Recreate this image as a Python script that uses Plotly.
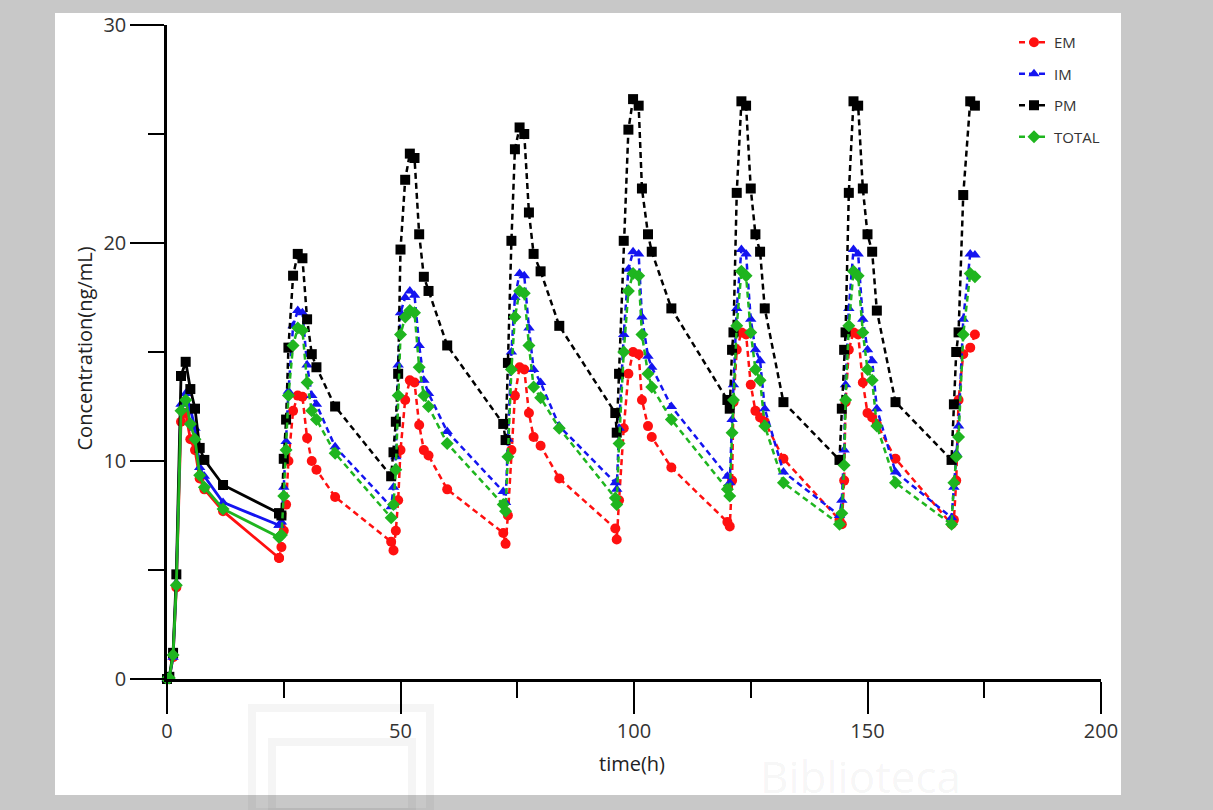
import plotly.graph_objects as go

# ---------------- data ----------------
# sampling times (h), dose by dose
time_h = [
    0, 0.5, 1.3, 2, 3, 4, 5, 6, 7, 8, 12,
    24, 24.5, 25, 25.5, 26, 27, 28, 29, 30, 31, 32, 36,
    48, 48.5, 49, 49.5, 50, 51, 52, 53, 54, 55, 56, 60,
    72, 72.5, 73, 73.75, 74.5, 75.5, 76.5, 77.5, 78.5, 80, 84,
    96, 96.3, 96.8, 97.8, 98.8, 99.8, 101, 101.7, 103, 103.8, 108,
    120, 120.5, 121, 121.3, 122, 123, 124, 125, 126, 127, 128, 132,
    144, 144.5, 145, 145.3, 146, 147, 148, 149, 150, 151, 152, 156,
    168, 168.5, 169, 169.5, 170.5, 172, 173,
]

conc_em = [
    0, 0.05, 1.0, 4.2, 11.8, 12.2, 11.0, 10.5, 9.2, 8.7, 7.7,
    5.55, 6.05, 6.8, 8.0, 10.0, 12.3, 13.0, 12.95, 11.05, 10.0, 9.6, 8.35,
    6.3, 5.9, 6.8, 8.2, 10.5, 12.8, 13.7, 13.6, 11.65, 10.5, 10.25, 8.7,
    6.7, 6.2, 7.5, 10.5, 13.0, 14.3, 14.2, 12.2, 11.1, 10.7, 9.2,
    6.9, 6.4, 8.2, 11.5, 14.0, 15.0, 14.9, 12.8, 11.6, 11.1, 9.7,
    7.2, 7.0, 9.1, 12.7, 15.1, 15.9, 15.8, 13.5, 12.3, 12.0, 11.8, 10.1,
    7.3, 7.1, 9.1, 12.7, 15.1, 15.9, 15.8, 13.6, 12.2, 12.0, 11.7, 10.1,
    7.1, 7.3, 9.1, 12.8, 14.9, 15.2, 15.8,
]

conc_im = [
    0, 0.05, 1.0, 4.4, 12.6, 13.1, 12.4, 11.5, 9.7, 9.3, 8.1,
    7.05, 7.2, 8.8, 10.9, 13.2, 16.2, 16.9, 16.8, 14.4, 13.0, 12.6, 10.65,
    7.9, 8.8, 10.2, 14.4, 16.8, 17.5, 17.8, 17.6, 15.3, 13.7, 13.1, 11.35,
    8.6, 8.1, 11.0, 15.0, 17.5, 18.6, 18.5, 16.1, 14.2, 13.6, 11.6,
    9.0, 8.7, 11.5, 15.8, 18.8, 19.6, 19.5, 16.6, 14.8, 14.3, 12.5,
    9.3, 9.0, 11.9, 13.5, 17.0, 19.7, 19.5, 16.5, 15.1, 14.6, 12.4, 9.5,
    7.5, 8.2, 10.5, 13.5, 17.0, 19.7, 19.5, 16.5, 15.1, 14.6, 12.4, 9.5,
    7.4, 8.8, 10.35, 11.6, 16.5, 19.5, 19.45,
]

conc_pm = [
    0, 0.1, 1.2, 4.8, 13.9, 14.55, 13.3, 12.4, 10.6, 10.05, 8.9,
    7.6, 7.5, 10.1, 11.9, 15.2, 18.5, 19.5, 19.3, 16.5, 14.9, 14.3, 12.5,
    9.3, 10.4, 11.8, 14.0, 19.7, 22.9, 24.1, 23.9, 20.4, 18.45, 17.8, 15.3,
    11.7, 10.96, 14.5, 20.1, 24.3, 25.3, 25.0, 21.4, 19.5, 18.7, 16.2,
    12.2, 11.3, 14.0, 20.1, 25.2, 26.6, 26.3, 22.5, 20.4, 19.6, 17.0,
    12.8, 12.4, 15.1, 15.9, 22.3, 26.5, 26.3, 22.5, 20.4, 19.6, 17.0, 12.7,
    10.05, 12.4, 15.1, 15.9, 22.3, 26.5, 26.3, 22.5, 20.4, 19.6, 16.9, 12.7,
    10.05, 12.6, 15.0, 15.9, 22.2, 26.5, 26.3,
]

conc_total = [
    0, 0.05, 1.1, 4.3, 12.3, 12.8, 11.7, 11.0, 9.35, 8.8, 7.8,
    6.5, 6.6, 8.4, 10.5, 13.0, 15.3, 16.1, 16.0, 13.6, 12.3, 11.9, 10.35,
    7.4, 8.0, 9.6, 13.0, 15.8, 16.6, 16.9, 16.8, 14.3, 13.0, 12.5, 10.8,
    8.0, 7.7, 10.2, 14.2, 16.6, 17.8, 17.7, 15.3, 13.4, 12.9, 11.5,
    8.3, 8.0, 10.8, 15.0, 17.8, 18.6, 18.5, 15.8, 14.0, 13.4, 11.9,
    8.7, 8.4, 11.3, 12.8, 16.2, 18.7, 18.5, 15.9, 14.2, 13.7, 11.6, 9.0,
    7.1, 7.6, 9.8, 12.8, 16.2, 18.7, 18.5, 15.9, 14.2, 13.7, 11.6, 9.0,
    7.1, 9.0, 10.2, 11.1, 15.8, 18.6, 18.45,
]

series_names = ["EM", "IM", "PM", "TOTAL"]
x_ticks = [0, 50, 100, 150, 200]
y_ticks = [0, 10, 20, 30]
first_dose_end = 24

# ---------------- styling ----------------
colors = {"EM": "#ff1010", "IM": "#1414f0", "PM": "#000000", "TOTAL": "#1fb51f"}
symbols = {"EM": "circle", "IM": "triangle-up", "PM": "square", "TOTAL": "diamond"}
values = {"EM": conc_em, "IM": conc_im, "PM": conc_pm, "TOTAL": conc_total}
FONT = "Open Sans"

W, H = 1213, 810
ML, MR, MT, MB = 167, 112, 25, 131
PW, PH = W - ML - MR, H - MT - MB


def px_x(px):
    return (px - ML) / PW


def px_y(py):
    return (H - MB - py) / PH


fig = go.Figure()

# first dosing interval: solid lines
for name in series_names:
    xs = [t for t in time_h if t <= first_dose_end]
    ys = [v for t, v in zip(time_h, values[name]) if t <= first_dose_end]
    fig.add_trace(go.Scatter(
        x=xs, y=ys, mode="lines+markers", name=name, legendgroup=name,
        showlegend=False, cliponaxis=False,
        line=dict(color=colors[name], width=2.8),
        marker=dict(symbol=symbols[name], size=10, color=colors[name]),
    ))

# later doses: dashed lines
for name in series_names:
    xs = [t for t in time_h if t >= first_dose_end]
    ys = [v for t, v in zip(time_h, values[name]) if t >= first_dose_end]
    fig.add_trace(go.Scatter(
        x=xs, y=ys, mode="lines+markers", name=name, legendgroup=name,
        cliponaxis=False,
        line=dict(color=colors[name], width=2.5, dash="6px,4px"),
        marker=dict(symbol=symbols[name], size=10, color=colors[name]),
    ))

axis_common = dict(
    showgrid=False, zeroline=False, showline=True, linecolor="black",
    linewidth=2.5, ticks="outside", tickcolor="black", tickwidth=2,
    tickfont=dict(family=FONT, size=20, color="#333333"),
)

fig.update_xaxes(
    range=[0, 200], tickmode="array", tickvals=x_ticks, ticklen=32,
    minor=dict(ticks="outside", dtick=25, tick0=0, ticklen=16,
               tickwidth=2, tickcolor="black"),
    **axis_common,
)
fig.update_yaxes(
    range=[0, 30], tickmode="array", tickvals=y_ticks, ticklen=34,
    minor=dict(ticks="outside", dtick=5, tick0=0, ticklen=16,
               tickwidth=2, tickcolor="black"),
    **axis_common,
)

shapes = [
    # white panel over the grey frame
    dict(type="rect", xref="paper", yref="paper", layer="below",
         x0=px_x(55), x1=px_x(1121), y0=px_y(795), y1=px_y(13),
         fillcolor="white", line=dict(width=0)),
    # faint watermark logo
    dict(type="rect", xref="paper", yref="paper", layer="below",
         x0=px_x(252), x1=px_x(430), y0=px_y(812), y1=px_y(708),
         fillcolor="rgba(0,0,0,0)", line=dict(color="rgba(0,0,0,0.04)", width=8)),
    dict(type="rect", xref="paper", yref="paper", layer="below",
         x0=px_x(272), x1=px_x(412), y0=px_y(812), y1=px_y(742),
         fillcolor="rgba(0,0,0,0)", line=dict(color="rgba(0,0,0,0.04)", width=8)),
]

annotations = [
    # faint watermark, kept clear of the tick labels and axis title
    dict(text="Biblioteca", xref="paper", yref="paper",
         x=px_x(860), y=px_y(744), xanchor="center", yanchor="top",
         showarrow=False,
         font=dict(family=FONT, size=44, color="rgba(0,0,0,0.05)")),
    dict(text="Concentration(ng/mL)", xref="paper", yref="paper",
         x=px_x(68), y=px_y(349), textangle=-90, showarrow=False,
         font=dict(family=FONT, size=20, color="#222222")),
    dict(text="time(h)", xref="paper", yref="paper",
         x=px_x(632), y=px_y(779), showarrow=False,
         font=dict(family=FONT, size=20, color="#222222")),
]

fig.update_layout(
    width=W, height=H, autosize=False,
    margin=dict(l=ML, r=MR, t=MT, b=MB),
    paper_bgcolor="#c8c8c8", plot_bgcolor="white",
    shapes=shapes, annotations=annotations,
    legend=dict(
        x=px_x(1014), y=px_y(26), xanchor="left", yanchor="top",
        bgcolor="rgba(0,0,0,0)", borderwidth=0,
        font=dict(family=FONT, size=15, color="#333333"),
        tracegroupgap=9, itemwidth=30,
    ),
)

fig.write_html(
    "out.html",
    config={"displayModeBar": False},
    post_script="document.body.style.margin='0';document.body.style.padding='0';",
)
